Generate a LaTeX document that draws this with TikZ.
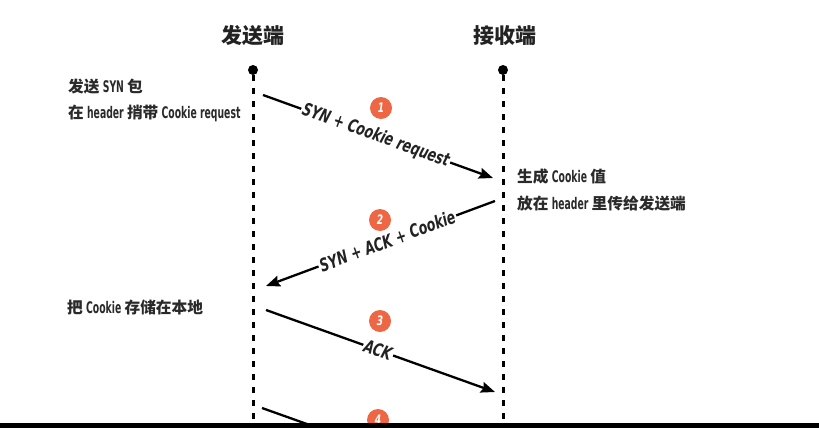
\documentclass[tikz,border=0pt]{standalone}
\usepackage{fontspec}
\usetikzlibrary{arrows.meta}
\newfontfamily\cjk{Noto Sans CJK SC}
\newfontfamily\lat[FakeStretch=0.7]{DejaVu Sans}
\newfontfamily\latn[FakeStretch=0.58]{DejaVu Sans}
\newcommand\myzh[1]{{\cjk\bfseries\fontsize{15.7}{16}\selectfont #1}}
\definecolor{badgecol}{HTML}{EE6744}
\definecolor{ink}{HTML}{222222}
\definecolor{notecol}{HTML}{2A2A2A}
\tikzset{
  title/.style={font=\cjk\bfseries\fontsize{21}{21}\selectfont, text=ink, inner sep=0pt},
  note/.style={anchor=west, font=\latn\bfseries\fontsize{16}{16}\selectfont, text=notecol, inner sep=0pt},
  lifedot/.style={circle, fill=black, minimum size=10pt, inner sep=0pt},
  lifeline/.style={line width=3pt, dash pattern=on 6pt off 7pt},
  msg/.style={line width=2.3pt, -{Stealth[length=14pt,width=11pt,inset=2pt]}},
  msglabel/.style={sloped, fill=white, inner sep=1.5pt, text=ink, font=\lat\bfseries\itshape\fontsize{18}{18}\selectfont},
  badge/.style={circle, fill=badgecol, minimum size=22pt, inner sep=0pt, text=white, font=\lat\bfseries\itshape\fontsize{13}{13}\selectfont},
}
\begin{document}
\begin{tikzpicture}[x=1pt, y=-1pt]
  \clip (0,0) rectangle (819,428);
  \fill[white] (0,0) rectangle (819,428);

  % titles
  \node[title] (tsend) at (253,36) {发送端};
  \node[title] (trecv) at (505,36) {接收端};

  % lifelines
  \node[lifedot] (sdot) at (253,70) {};
  \node[lifedot] (rdot) at (503,70) {};
  \coordinate (send) at (253,440);
  \coordinate (rend) at (503,440);
  \draw[lifeline] (sdot) -- (send);
  \draw[lifeline] (rdot) -- (rend);

  % notes
  \node[note] (n1) at (68,87) {\myzh{发送} SYN \myzh{包}};
  \node[note] (n2) at (68,113) {\myzh{在} header \myzh{捎带} Cookie request};
  \node[note] (n3) at (517,177) {\myzh{生成} Cookie \myzh{值}};
  \node[note] (n4) at (517,204) {\myzh{放在} header \myzh{里传给发送端}};
  \node[note] (n5) at (67,307) {\myzh{把} Cookie \myzh{存储在本地}};

  % message end points
  \coordinate (m1s) at (263,95);
  \coordinate (m1e) at (493,178);
  \coordinate (m2s) at (495,201);
  \coordinate (m2e) at (266,286);
  \coordinate (m3s) at (266,310);
  \coordinate (m3e) at (495,392);
  \coordinate (m4s) at (262,408);
  \coordinate (m4e) at (492,490);

  \draw[msg] (m1s) -- node[msglabel, pos=0.49] (l1) {SYN + Cookie request} (m1e);
  \draw[msg] (m2s) -- node[msglabel, pos=0.47] (l2) {SYN + ACK + Cookie} (m2e);
  \draw[msg] (m3s) -- node[msglabel, pos=0.49] (l3) {ACK} (m3e);
  \draw[msg] (m4s) -- (m4e);

  % badges
  \node[badge] (b1) at (381,108) {1};
  \node[badge] (b2) at (380,220) {2};
  \node[badge] (b3) at (380,321) {3};
  \node[badge] (b4) at (378,420) {4};

  % bottom bar
  \fill[black] (0,423) rectangle (819,428);
\end{tikzpicture}
\end{document}
